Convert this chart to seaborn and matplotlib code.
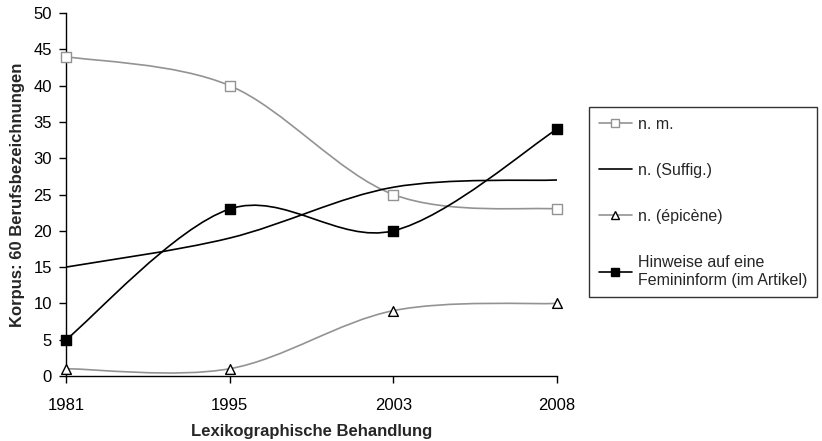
""" Lexikographische Behandlung von Berufsbezeichnungen, 1981-2008 """
import numpy as np
import pandas as pd
import matplotlib.pyplot as plt
import seaborn as sns
from matplotlib.path import Path
from matplotlib.patches import PathPatch
from matplotlib.lines import Line2D


years = ['1981', '1995', '2003', '2008']
nm = [44, 40, 25, 23]                       ### n. m.
suffig = [15, 19, 26, 27]                   ### n. (Suffig.)
epicene = [1, 1, 9, 10]                     ### n. (épicène)
hinweise = [5, 23, 20, 34]                  ### Hinweise auf eine Femininform

labels = ['n. m.', 'n. (Suffig.)', 'n. (épicène)',
          'Hinweise auf eine\nFemininform (im Artikel)']

sns.set_style('white')
plt.rcParams['font.family'] = ['Liberation Sans', 'DejaVu Sans']

df = pd.DataFrame({'Jahr': years * 4,
                   'x': list(range(len(years))) * 4,
                   'Wert': nm + suffig + epicene + hinweise,
                   'Serie': [l for l in labels for _ in years]})

GREY = '#939393'
styles = {
    labels[0]: dict(color=GREY, marker='s', mfc='white', mec=GREY, ms=6.5),
    labels[1]: dict(color='black', marker=None, mfc='none', mec='none', ms=0),
    labels[2]: dict(color=GREY, marker='^', mfc='white', mec='black', ms=7),
    labels[3]: dict(color='black', marker='s', mfc='black', mec='black', ms=7),
}


def smooth_path(xs, ys):
    """Excel-style smoothed line: cubic bezier segments through the points"""
    p = np.column_stack([xs, ys]).astype(float)
    n = len(p)
    verts = [p[0]]
    codes = [Path.MOVETO]
    for i in range(n - 1):
        p0 = p[i - 1] if i > 0 else p[i]
        p3 = p[i + 2] if i + 2 < n else p[i + 1]
        c1 = p[i] + (p[i + 1] - p0) / 6
        c2 = p[i + 1] - (p3 - p[i]) / 6
        verts += [c1, c2, p[i + 1]]
        codes += [Path.CURVE4] * 3
    return Path(verts, codes)


fig, ax = plt.subplots(figsize=(8.22, 4.41), dpi=100)
fig.subplots_adjust(left=0.0803, right=0.6776, bottom=0.1474, top=0.9705)

for lab in labels:
    sub = df[df['Serie'] == lab]
    st = styles[lab]
    ax.add_patch(PathPatch(smooth_path(sub['x'], sub['Wert']), fill=False,
                           edgecolor=st['color'], lw=1.2, zorder=2))
    if st['marker']:
        sns.scatterplot(data=sub, x='x', y='Wert', marker=st['marker'], s=st['ms'] ** 2,
                        color=st['mfc'], edgecolor=st['mec'], linewidth=1.0,
                        ax=ax, zorder=3, legend=False, clip_on=False)

ax.set_xlim(0, 3)
ax.set_ylim(0, 50)
ax.set_xticks(range(len(years)))
ax.set_xticklabels(years)
ax.set_yticks(range(0, 51, 5))
ax.tick_params(axis='both', direction='out', length=5, width=1, colors='black',
               labelsize=12, bottom=True, left=True)
ax.tick_params(axis='x', pad=11)
ax.tick_params(axis='y', pad=5)
for s in ['top', 'right']:
    ax.spines[s].set_visible(False)
for s in ['left', 'bottom']:
    ax.spines[s].set_color('black')
    ax.spines[s].set_linewidth(1)
ax.set_xlabel('Lexikographische Behandlung', fontsize=12, fontweight='bold', labelpad=8)
ax.set_ylabel('Korpus: 60 Berufsbezeichnungen', fontsize=12, fontweight='bold', labelpad=6)

handles = []
for lab in labels:
    st = styles[lab]
    handles.append(Line2D([], [], color=st['color'], lw=1.2, marker=st['marker'],
                          markerfacecolor=st['mfc'], markeredgecolor=st['mec'],
                          markersize=st['ms'] * 0.85))
leg = fig.legend(handles, labels, loc='upper left', bbox_to_anchor=(0.7165, 0.757),
                 fontsize=11.5, frameon=True, fancybox=False, edgecolor='black',
                 labelspacing=1.95, handlelength=2.1, handletextpad=0.4,
                 borderpad=0.6, borderaxespad=0)
leg.get_frame().set_linewidth(1)

fig.savefig('out.png', dpi=100)
